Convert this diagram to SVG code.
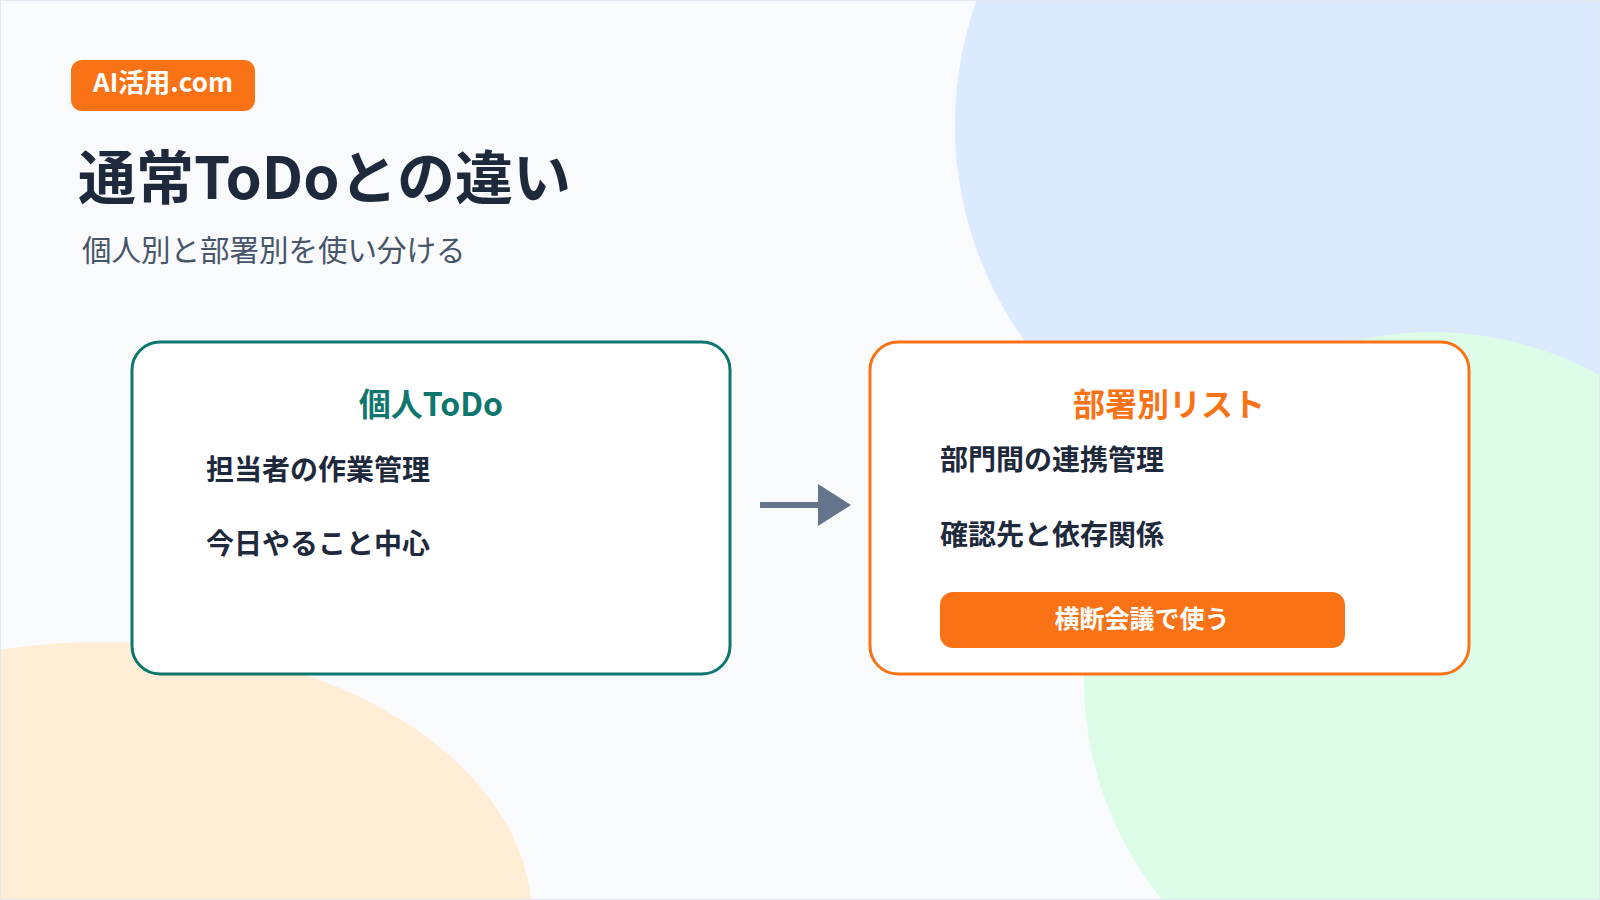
<svg xmlns="http://www.w3.org/2000/svg" width="1600" height="900" viewBox="0 0 1600 900">
<style>
text{font-family:"Noto Sans CJK JP","Noto Sans",sans-serif}
.item{font-size:28px;font-weight:700;fill:#1e293b}
.box{fill:#ffffff;stroke-width:3}
</style>
<defs><marker id="ah" markerWidth="6" markerHeight="7" refX="1" refY="3.5" orient="auto" markerUnits="strokeWidth"><path d="M0,0 L5.5,3.5 L0,7 Z" fill="#64748b"/></marker></defs>
<rect width="1600" height="900" fill="#f8fafc"/>
<circle cx="1325" cy="125" r="370" fill="#dbeafe"/>
<circle cx="1432" cy="680" r="348" fill="#dcfce7"/>
<ellipse cx="102" cy="918" rx="430" ry="276" fill="#ffedd5"/>
<rect x="0.5" y="0.5" width="1599" height="899" fill="none" stroke="#e2e8f0"/>
<g id="badge"><rect x="71" y="60" width="184" height="51" rx="11" fill="#f97316"/><text x="163" y="92" text-anchor="middle" font-size="26" font-weight="700" fill="#fff">AI活用.com</text></g>
<text x="78" y="199" font-size="58" font-weight="700" fill="#1e293b">通常ToDoとの違い</text>
<text x="82" y="261" font-size="29.5" fill="#475569">個人別と部署別を使い分ける</text>
<g id="personal"><rect class="box" x="132" y="342" width="598" height="332" rx="28" stroke="#0f766e"/>
<text x="431" y="416" text-anchor="middle" font-size="32" font-weight="700" fill="#0f766e">個人ToDo</text>
<text class="item" x="206" y="480">担当者の作業管理</text>
<text class="item" x="206" y="554">今日やること中心</text></g>
<g id="connectors"><line x1="760" y1="505" x2="824" y2="505" stroke="#64748b" stroke-width="6" marker-end="url(#ah)"/></g>
<g id="dept"><rect class="box" x="870" y="342" width="599" height="332" rx="28" stroke="#f97316"/>
<text x="1169" y="416" text-anchor="middle" font-size="32" font-weight="700" fill="#f97316">部署別リスト</text>
<text class="item" x="940" y="470">部門間の連携管理</text>
<text class="item" x="940" y="545">確認先と依存関係</text>
<rect x="940" y="592" width="405" height="56" rx="13" fill="#f97316"/>
<text x="1142" y="628" text-anchor="middle" font-size="25" font-weight="700" fill="#fff">横断会議で使う</text></g>
</svg>
